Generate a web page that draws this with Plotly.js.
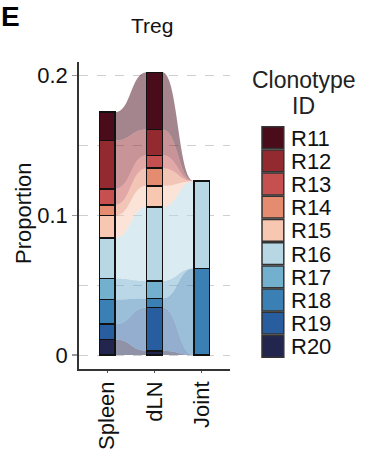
<!DOCTYPE html>
<html><head><meta charset="utf-8">
<script src="https://cdn.plot.ly/plotly-3.0.1.min.js"></script>
<style>html,body{margin:0;padding:0;background:#fff}#chart{width:366px;height:452px}</style>
</head><body><div id="chart"></div>
<script>
// ---- data ----
const stages = ['Spleen', 'dLN', 'Joint'];
const clonotypes = ['R11','R12','R13','R14','R15','R16','R17','R18','R19','R20'];
const colors = ['#4a0c1b','#922a30','#c5504f','#e58b70','#f8c7b1','#b8d7e5','#73b0ce','#3a80b4','#285ea0','#22264f'];
const spleen = [0.0202,0.0346,0.0114,0.0078,0.0158,0.0292,0.0150,0.0177,0.0109,0.0112];
const dLN    = [0.0410,0.0184,0.0092,0.0126,0.0152,0.0529,0.0126,0.0064,0.0310,0.0031];
const joint  = [0,0,0,0,0,0.0624,0,0.0621,0,0];
const yTickVals = [0, 0.1, 0.2];
const yTickText = ['0', '0.1', '0.2'];
const titleText = 'Treg';
const yTitle = 'Proportion';
const legendTitle = ['Clonotype', 'ID'];
const panelLabel = 'E';

// ---- build ----
const FONT = '"Liberation Sans", Arial, Helvetica, sans-serif';
const stageVals = [spleen, dLN, joint];
const xs = stages.map((s, i) => i + 1);
const barW = 1 / 3;

function hexA(h, a) {
  const r = parseInt(h.slice(1,3),16), g = parseInt(h.slice(3,5),16), b = parseInt(h.slice(5,7),16);
  return `rgba(${r},${g},${b},${a})`;
}

// cumulative bottoms (R20 at bottom)
const bottoms = stageVals.map(vals => {
  const b = new Array(vals.length).fill(0);
  let acc = 0;
  for (let k = vals.length - 1; k >= 0; k--) { b[k] = acc; acc += vals[k]; }
  return b;
});

const traces = [];
for (let k = clonotypes.length - 1; k >= 0; k--) {
  traces.push({
    type: 'bar', name: clonotypes[k], x: xs, y: stageVals.map(v => v[k]),
    width: barW, marker: {color: colors[k], line: {color: '#111', width: 1.6}},
    showlegend: false, hoverinfo: 'skip'
  });
}

const shapes = [];
for (let s = 0; s < stages.length - 1; s++) {
  const x0 = xs[s] + barW / 2, x1 = xs[s + 1] - barW / 2, xm = (x0 + x1) / 2;
  for (let k = clonotypes.length - 1; k >= 0; k--) {
    const b0 = bottoms[s][k], t0 = b0 + stageVals[s][k];
    const b1 = bottoms[s + 1][k], t1 = b1 + stageVals[s + 1][k];
    shapes.push({
      type: 'path', xref: 'x', yref: 'y', layer: 'between',
      path: `M${x0},${t0} C${xm},${t0} ${xm},${t1} ${x1},${t1} L${x1},${b1} C${xm},${b1} ${xm},${b0} ${x0},${b0} Z`,
      fillcolor: hexA(colors[k], 0.5), line: {width: 0}
    });
  }
}

// manual legend (pixel -> paper helpers)
const M = {l: 79, r: 136, t: 62, b: 83};
const W = 366, H = 452;
const pw = W - M.l - M.r, ph = H - M.t - M.b;
const px = p => (p - M.l) / pw;
const py = p => (H - M.b - p) / ph;

const annotations = [];
clonotypes.forEach((c, i) => {
  const top = 126.7 + 23.2 * i, size = 21.8;
  shapes.push({
    type: 'rect', xref: 'paper', yref: 'paper',
    x0: px(262), x1: px(262 + size), y0: py(top + size), y1: py(top),
    fillcolor: colors[i], line: {color: '#333', width: 1.5}, layer: 'above'
  });
  annotations.push({
    xref: 'paper', yref: 'paper', x: px(289), y: py(top + size / 2 + 0.5),
    xanchor: 'left', yanchor: 'middle', text: c, showarrow: false,
    font: {family: FONT, size: 22, color: '#111'}
  });
});
annotations.push({xref:'paper', yref:'paper', x: px(304), y: py(79.5), xanchor:'center', yanchor:'middle',
  text: legendTitle[0], showarrow:false, font:{family:FONT, size:23, color:'#222'}});
annotations.push({xref:'paper', yref:'paper', x: px(303), y: py(106), xanchor:'center', yanchor:'middle',
  text: legendTitle[1], showarrow:false, font:{family:FONT, size:23, color:'#222'}});
annotations.push({xref:'paper', yref:'paper', x: px(0), y: py(0), xanchor:'left', yanchor:'top',
  text: '<b>' + panelLabel + '</b>', showarrow:false, borderpad: 0, font:{family:FONT, size:28, color:'#000'}});
annotations.push({xref:'paper', yref:'paper', x: px(152), y: py(26), xanchor:'center', yanchor:'middle',
  text: titleText, showarrow:false, font:{family:FONT, size:21, color:'#111'}});
annotations.push({xref:'paper', yref:'paper', x: px(23), y: py(213), xanchor:'center', yanchor:'middle',
  text: yTitle, textangle: -90, showarrow:false, font:{family:FONT, size:22, color:'#111'}});

const layout = {
  width: W, height: H, margin: M,
  paper_bgcolor: '#fff', plot_bgcolor: 'rgba(0,0,0,0)',
  barmode: 'stack', bargap: 0,
  font: {family: FONT, color: '#111'},
  xaxis: {
    range: [0.4, 3.6], tickvals: xs, ticktext: stages, tickangle: -90,
    ticks: 'outside', ticklen: 2, tickwidth: 1.2, tickcolor: '#555',
    showline: true, linecolor: '#333', linewidth: 1.6,
    showgrid: false, zeroline: false, fixedrange: true,
    tickfont: {family: FONT, size: 22, color: '#111'}
  },
  yaxis: {
    range: [-0.01, 0.2098], tickvals: yTickVals, ticktext: yTickText,
    ticks: 'outside', ticklen: 5, tickwidth: 1.2, tickcolor: '#999',
    showline: true, linecolor: '#333', linewidth: 1.8,
    showgrid: true, gridcolor: '#cfcfcf', griddash: 'dash', gridwidth: 1,
    minor: {dtick: 0.05, tick0: 0, showgrid: true, gridcolor: '#cfcfcf', griddash: 'dash', gridwidth: 1, ticks: ''},
    zeroline: false, fixedrange: true,
    tickfont: {family: FONT, size: 22, color: '#111'}
  },
  shapes: shapes,
  annotations: annotations
};

Plotly.newPlot('chart', traces, layout, {staticPlot: true, displayModeBar: false});
</script>
</body></html>
